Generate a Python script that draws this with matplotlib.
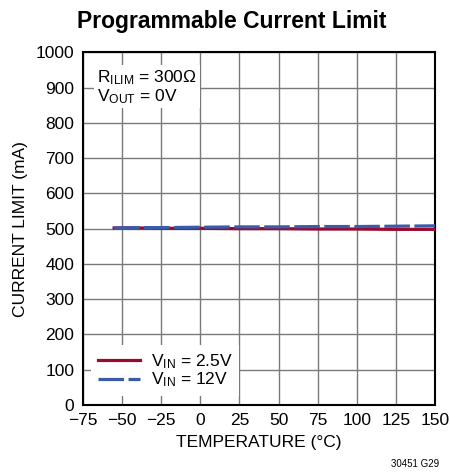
import matplotlib
matplotlib.use("Agg")
import matplotlib.pyplot as plt

# Temperature sweep and measured current limit (mA)
temp_c = [-55, -40, -25, 0, 25, 50, 75, 100, 125, 150]
ilim_vin_2v5 = [502, 502, 501, 501, 500, 500, 499, 499, 498, 498]
ilim_vin_12v = [502, 503, 503, 504, 505, 505, 506, 506, 507, 508]

x_ticks = [-75, -50, -25, 0, 25, 50, 75, 100, 125, 150]
y_ticks = [0, 100, 200, 300, 400, 500, 600, 700, 800, 900, 1000]

family = "Liberation Sans"
plt.rcParams["font.family"] = [family, "DejaVu Sans"]
plt.rcParams["mathtext.fontset"] = "custom"
plt.rcParams["mathtext.rm"] = family
plt.rcParams["mathtext.it"] = family

fig = plt.figure(figsize=(4.5, 4.74), dpi=100)
ax = fig.add_axes([0.184, 0.1456, 0.783, 0.744])

ax.plot(temp_c, ilim_vin_2v5, color="#9b0a2e", linewidth=2.3,
        label=r"V$_{\mathregular{IN}}$ = 2.5V", zorder=3)
ax.plot(temp_c, ilim_vin_12v, color="#3a5aaa", linewidth=2.3,
        dashes=(8, 1.4), label=r"V$_{\mathregular{IN}}$ = 12V", zorder=3)

ax.set_xlim(-75, 150)
ax.set_ylim(0, 1000)
ax.set_xticks(x_ticks)
ax.set_yticks(y_ticks)
ax.set_xticklabels([str(t).replace("-", "\u2212") for t in x_ticks])
ax.tick_params(direction="in", length=0, labelsize=12.5, pad=6)
ax.grid(True, color="#7a7a7a", linewidth=1.0)
for s in ax.spines.values():
    s.set_linewidth(1.5)

ax.set_xlabel("TEMPERATURE (°C)", fontsize=12.5, labelpad=5)
ax.set_ylabel("CURRENT LIMIT (mA)", fontsize=12.5, labelpad=6)
fig.suptitle("Programmable Current Limit", fontsize=16.5, fontweight="bold",
             x=0.515, y=0.978)

ax.text(0.04, 0.955,
        "R$_{\\mathregular{ILIM}}$ = 300Ω\nV$_{\\mathregular{OUT}}$ = 0V",
        transform=ax.transAxes, fontsize=12.5, va="top", ha="left",
        linespacing=1.0, zorder=4,
        bbox=dict(facecolor="white", edgecolor="none", pad=2))

leg = ax.legend(loc="lower left", bbox_to_anchor=(0.0, 0.0), fontsize=12.5,
                frameon=True, fancybox=False, edgecolor="none",
                framealpha=1.0, handlelength=2.4, handletextpad=0.6,
                labelspacing=0.0, borderpad=0.4)

fig.text(0.975, 0.01, "30451 G29", fontsize=7, ha="right", va="bottom")

fig.savefig("out.png", dpi=100)
